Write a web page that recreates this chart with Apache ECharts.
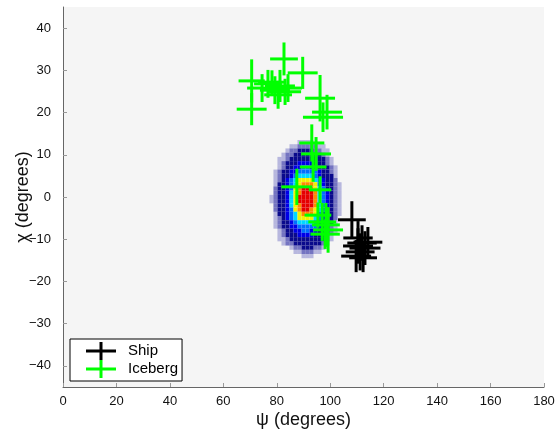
<!DOCTYPE html>
<html>
<head>
<meta charset="utf-8">
<style>
  html, body { margin: 0; padding: 0; background: #fff; }
  #chart { width: 557px; height: 434px; }
</style>
<script src="https://cdn.jsdelivr.net/npm/echarts@6/dist/echarts.min.js"></script>
</head>
<body>
<div id="chart"></div>
<script>
// Axis ticks
const psiTicks = [0, 20, 40, 60, 80, 100, 120, 140, 160, 180];
const chiTicks = [-40, -30, -20, -10, 0, 10, 20, 30, 40];

// Density map: one string per chi row (top to bottom), one digit per psi cell.
// 0 = empty, 1..9 = increasing density level.
const densityPsiStart = 78;   // centre of first psi cell (deg)
const densityPsiStep = 1.5;   // psi cell width (deg)
const densityChiStart = 13;   // centre of first chi row (deg)
const densityChiStep = 1;     // chi row height (deg)
const densityRows = [
  "000000011110000000",
  "000001122222110000",
  "000012233332211000",
  "000122333333321000",
  "001123333333332100",
  "001233344443332100",
  "001233445544333210",
  "012334455555433210",
  "012334566665433310",
  "012345677776543320",
  "013345678887543321",
  "023345789987653321",
  "023346789998654321",
  "123346799998654321",
  "123346799998654321",
  "023346789998654321",
  "023345789987653321",
  "013345678887543321",
  "012345677776543320",
  "012334566665433310",
  "012334455555433210",
  "001233445544333210",
  "001233344443332100",
  "001123333333332100",
  "000122333333321000",
  "000001223332210000",
  "000000112221100000",
  "000000001110000000"
];
const densityColors = [
  null,
  "rgba(20,20,160,0.28)",
  "rgba(10,10,150,0.55)",
  "#0a0a8c",
  "#0000e6",
  "#0070ff",
  "#00d8ff",
  "#f2f200",
  "#ff8a00",
  "#e60000"
];

// Ship detections: psi, chi and half-length of each cross arm (deg)
const shipPsi  = [108.1, 110.4, 111.9, 113.0, 111.2, 109.7, 114.1, 112.3, 110.4];
const shipChi  = [-5.4, -9.7, -10.9, -12.1, -13.0, -14.0, -10.7, -14.4, -11.6];
const shipDPsi = [5.2, 5.5, 5.5, 5.8, 5.4, 5.6, 5.4, 5.2, 5.6];
const shipDChi = [4.4, 4.0, 4.2, 4.0, 4.4, 3.8, 3.6, 3.4, 4.2];

// Iceberg detections: psi, chi and half-length of each cross arm (deg)
const icebergPsi  = [82.7, 89.7, 70.6, 70.6, 74.5, 76.7, 79.3, 81.2, 83.1, 80.5, 78.2, 84.2,
                     96.2, 97.3, 98.8,
                     93.1, 94.7, 93.6, 87.5, 96.2,
                     95.4, 97.0, 98.4, 99.2, 98.1];
const icebergChi  = [32.7, 29.4, 27.5, 20.8, 25.8, 26.8, 25.3, 26.3, 24.9, 24.2, 27.2, 25.8,
                     23.4, 18.9, 20.1,
                     12.8, 10.2, 7.1, 2.4, 1.7,
                     -4.3, -5.9, -6.6, -7.8, -8.8];
const icebergDPsi = [5.2, 5.6, 4.9, 5.6, 5.6, 5.2, 5.6, 5.6, 6.0, 5.2, 5.2, 5.2,
                     5.6, 7.5, 5.6,
                     4.7, 5.6, 5.0, 5.8, 4.2,
                     5.0, 5.2, 5.2, 5.6, 5.5];
const icebergDChi = [3.9, 3.8, 5.1, 3.8, 3.3, 3.3, 3.3, 3.8, 3.1, 3.3, 2.8, 3.3,
                     5.5, 3.5, 4.1,
                     4.4, 4.0, 3.5, 4.3, 3.2,
                     3.0, 4.5, 5.2, 5.4, 3.5];

// Build series data
const densityData = [];
densityRows.forEach(function (row, r) {
  const chi = densityChiStart - r * densityChiStep;
  for (let c = 0; c < row.length; c++) {
    const lvl = +row[c];
    if (lvl > 0) densityData.push([densityPsiStart + c * densityPsiStep, chi, lvl]);
  }
});
function crossData(psi, chi, dpsi, dchi) {
  return psi.map(function (p, i) { return [p, chi[i], dpsi[i], dchi[i]]; });
}
const shipData = crossData(shipPsi, shipChi, shipDPsi, shipDChi);
const icebergData = crossData(icebergPsi, icebergChi, icebergDPsi, icebergDChi);

function renderCell(params, api) {
  const psi = api.value(0), chi = api.value(1), lvl = api.value(2);
  const a = api.coord([psi - densityPsiStep / 2, chi + densityChiStep / 2]);
  const b = api.coord([psi + densityPsiStep / 2, chi - densityChiStep / 2]);
  return {
    type: 'rect',
    shape: { x: a[0], y: a[1], width: b[0] - a[0], height: b[1] - a[1] },
    style: { fill: densityColors[lvl], stroke: null }
  };
}

function makeCrossRenderer(color) {
  return function (params, api) {
    const psi = api.value(0), chi = api.value(1), dp = api.value(2), dc = api.value(3);
    const l = api.coord([psi - dp, chi]), r = api.coord([psi + dp, chi]);
    const t = api.coord([psi, chi + dc]), b = api.coord([psi, chi - dc]);
    const style = { stroke: color, lineWidth: 3, fill: null };
    return {
      type: 'group',
      children: [
        { type: 'line', shape: { x1: l[0], y1: l[1], x2: r[0], y2: r[1] }, style: style },
        { type: 'line', shape: { x1: t[0], y1: t[1], x2: b[0], y2: b[1] }, style: style }
      ]
    };
  };
}

const FONT = '"Liberation Sans", Arial, Helvetica, sans-serif';
const crossIcon = 'path://M0,7.5H30V10.5H0Z M13.5,0H16.5V18H13.5Z';
const minus = function (v) { return String(v).replace('-', '\u2212'); };

const chart = echarts.init(document.getElementById('chart'), null, { renderer: 'canvas' });
chart.setOption({
  backgroundColor: '#ffffff',
  animation: false,
  textStyle: { fontFamily: FONT },
  grid: {
    left: 63, right: 13, top: 7, bottom: 47,
    containLabel: false, outerBoundsMode: 'none',
    show: true, backgroundColor: '#f5f5f5', borderWidth: 0
  },
  xAxis: {
    type: 'value', min: 0, max: 180, interval: 20,
    name: '\u03c8 (degrees)', nameLocation: 'middle', nameGap: 24, nameMoveOverlap: false,
    nameTextStyle: { fontSize: 18, color: '#111', fontFamily: FONT },
    axisLine: { show: true, onZero: false, lineStyle: { color: '#666', width: 1 } },
    axisTick: { show: true, inside: true, length: 4, lineStyle: { color: '#999' },
                customValues: psiTicks },
    axisLabel: { fontSize: 13, color: '#111', margin: 8, fontFamily: FONT,
                 customValues: psiTicks, formatter: minus },
    splitLine: { show: false }
  },
  yAxis: {
    type: 'value', min: -45, max: 45,
    name: '\u03c7 (degrees)', nameLocation: 'middle', nameGap: 31, nameRotate: 90,
    nameMoveOverlap: false,
    nameTextStyle: { fontSize: 18, color: '#111', fontFamily: FONT },
    axisLine: { show: true, onZero: false, lineStyle: { color: '#666', width: 1 } },
    axisTick: { show: true, inside: true, length: 4, lineStyle: { color: '#999' },
                customValues: chiTicks },
    axisLabel: { fontSize: 13, color: '#111', margin: 12, fontFamily: FONT,
                 customValues: chiTicks, formatter: minus },
    splitLine: { show: false }
  },
  legend: {
    orient: 'vertical', left: 70, top: 339,
    padding: [3, 4, 3, 16], itemGap: 0, itemWidth: 30, itemHeight: 18,
    backgroundColor: '#ffffff', borderColor: '#000', borderWidth: 1, borderRadius: 0,
    textStyle: { fontSize: 15, color: '#000', fontFamily: FONT, padding: [0, 0, 0, 7] },
    data: [
      { name: 'Ship', icon: crossIcon },
      { name: 'Iceberg', icon: crossIcon }
    ]
  },
  series: [
    {
      name: 'density', type: 'custom', renderItem: renderCell,
      data: densityData, silent: true, clip: true
    },
    {
      name: 'Ship', type: 'custom', renderItem: makeCrossRenderer('#000000'),
      itemStyle: { color: '#000000' }, data: shipData, clip: true
    },
    {
      name: 'Iceberg', type: 'custom', renderItem: makeCrossRenderer('#00ff00'),
      itemStyle: { color: '#00ff00' }, data: icebergData, clip: true
    }
  ]
});
</script>
</body>
</html>
